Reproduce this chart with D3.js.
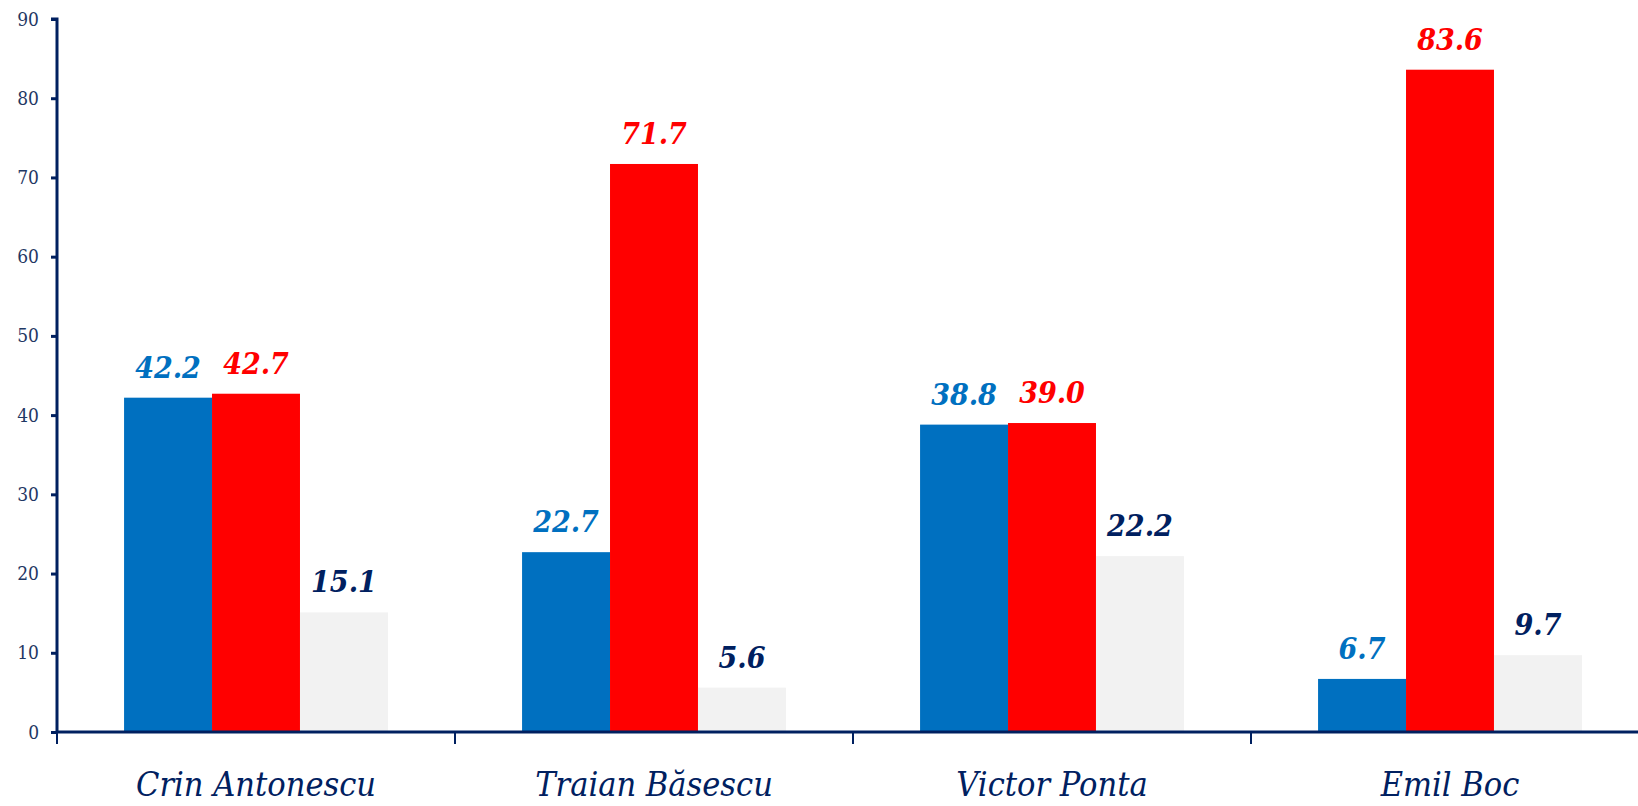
<!DOCTYPE html>
<html><head><meta charset="utf-8">
<script src="https://cdn.jsdelivr.net/npm/d3@7"></script>
<style>body{margin:0;background:#fff;overflow:hidden}</style>
</head><body>
<svg id="c" width="1638" height="806"></svg>
<script>
const categories = ["Crin Antonescu", "Traian Băsescu", "Victor Ponta", "Emil Boc"];
const seriesNames = ["s1", "s2", "s3"];
const seriesA = [42.2, 22.7, 38.8, 6.7];
const seriesB = [42.7, 71.7, 39.0, 83.6];
const seriesC = [15.1, 5.6, 22.2, 9.7];
const yTicks = [0, 10, 20, 30, 40, 50, 60, 70, 80, 90];

const barColors = ["#0070C0", "#FF0000", "#F2F2F2"];
const labelColors = ["#0070C0", "#FF0000", "#002060"];
const axisColor = "#002060";
const font = "'DejaVu Serif Condensed','DejaVu Serif',serif";

const svg = d3.select("#c");
const x0 = d3.scaleBand().domain(categories).range([57, 1649]).paddingInner(0.337).paddingOuter(0.1685);
const x1 = d3.scaleBand().domain(seriesNames).range([0, x0.bandwidth()]);
const y = d3.scaleLinear().domain([0, 90]).range([732, 19]);

const series = [seriesA, seriesB, seriesC];
const data = [];
categories.forEach((c, i) => series.forEach((s, j) => data.push({c, k: seriesNames[j], j, v: s[i]})));

svg.append("g").selectAll("rect").data(data).join("rect")
  .attr("x", d => x0(d.c) + x1(d.k))
  .attr("width", x1.bandwidth())
  .attr("y", d => y(d.v))
  .attr("height", d => y(0) - y(d.v))
  .attr("fill", d => barColors[d.j]);

svg.append("g").selectAll("text").data(data).join("text")
  .attr("x", d => x0(d.c) + x1(d.k) + x1.bandwidth() / 2)
  .attr("y", d => y(d.v) - 20)
  .attr("text-anchor", "middle")
  .attr("font-family", font)
  .attr("font-weight", "bold")
  .attr("font-style", "italic")
  .attr("font-size", 30)
  .attr("fill", d => labelColors[d.j])
  .text(d => d.v.toFixed(1));

// y axis
const yAxis = d3.axisLeft(y).tickValues(yTicks).tickSize(6).tickPadding(12);
const gy = svg.append("g").attr("transform", "translate(57,0)").call(yAxis);
gy.select(".domain").attr("stroke", axisColor).attr("stroke-width", 3).attr("d", `M-6,${y(90)}H0V${y(0)}`);
gy.selectAll(".tick line").attr("stroke", axisColor).attr("stroke-width", 3);
gy.selectAll(".tick text").attr("font-family", font).attr("font-size", 19).attr("fill", "#1F3864");

// x axis
const xAxis = d3.axisBottom(x0).tickSize(0).tickPadding(0);
const gx = svg.append("g").attr("transform", `translate(0,${y(0)})`).call(xAxis);
gx.select(".domain").attr("stroke", axisColor).attr("stroke-width", 3).attr("d", `M57,0H1649`);
gx.selectAll(".tick text").attr("y", 64).attr("dy", 0)
  .attr("font-family", font).attr("font-style", "italic").attr("font-size", 34).attr("fill", "#002060");
const boundaries = categories.map(c => x0(c) - x0.step() * x0.paddingOuter());
svg.append("g").selectAll("line").data(boundaries).join("line")
  .attr("x1", d => d).attr("x2", d => d)
  .attr("y1", y(0)).attr("y2", y(0) + 12)
  .attr("stroke", axisColor).attr("stroke-width", 2);
</script>
</body></html>
